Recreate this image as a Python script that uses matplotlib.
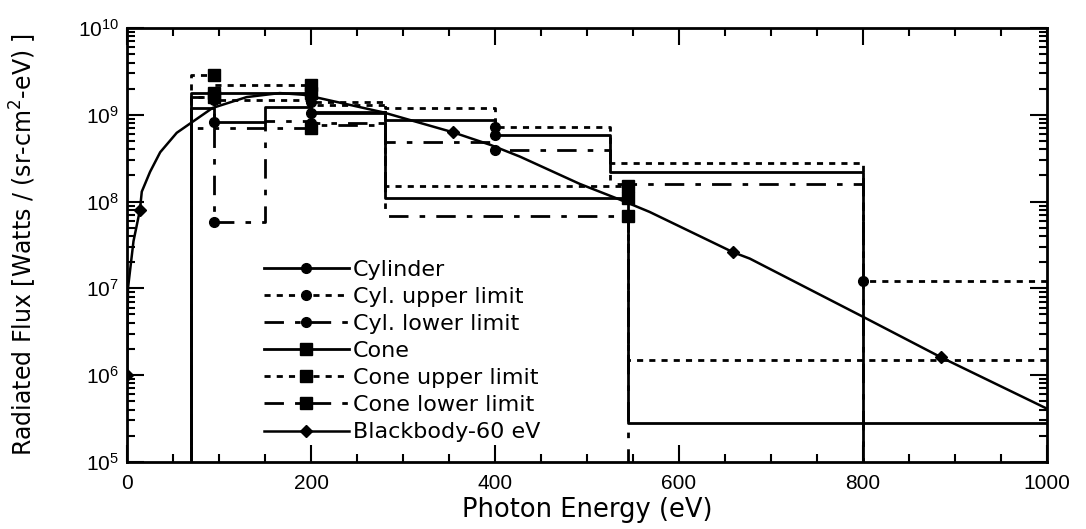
import matplotlib
matplotlib.use("Agg")
import matplotlib.pyplot as plt
from matplotlib.ticker import LogLocator, MultipleLocator, FixedLocator

# ---------------- data ----------------
# Cylinder histogram (bin edges in eV, flux per bin)
cyl_edges = [70, 95, 150, 200, 280, 400, 525, 800, 1000]
cyl_value = [1.2e9, 8.3e8, 1.23e9, 1.05e9, 8.7e8, 5.9e8, 2.2e8, 1e3]
cyl_upper = [1.6e9, 1.5e9, 1.5e9, 1.4e9, 1.2e9, 7.3e8, 2.8e8, 1.2e7]
cyl_lower = [7.0e8, 5.8e7, 8.5e8, 8.0e8, 4.9e8, 3.9e8, 1.6e8, 1e3]
cyl_mark_at = [95, 200, 400, 800]

# Cone histogram
cone_edges = [70, 95, 200, 280, 545, 1000]
cone_value = [1.8e9, 1.8e9, 1.07e9, 1.1e8, 2.8e5]
cone_upper = [2.9e9, 2.2e9, 1.3e9, 1.5e8, 1.5e6]
cone_lower = [1.6e9, 7.0e8, 7.7e8, 6.8e7, 1e3]
cone_mark_at = [95, 200, 545]

# Blackbody 60 eV curve
bb_e = [0, 1, 7, 14, 16, 25, 36, 54, 66, 93, 130, 166, 192, 210, 278, 354,
        395, 427, 492, 536, 568, 659, 677, 786, 800, 885, 1000]
bb_f = [1e6, 1e7, 3.5e7, 8e7, 1.3e8, 2.2e8, 3.7e8, 6.2e8, 7.6e8, 1.2e9, 1.6e9,
        1.78e9, 1.7e9, 1.55e9, 1.07e9, 6.3e8, 4.5e8, 3.3e8, 1.6e8, 1.05e8,
        7.6e7, 2.6e7, 2.2e7, 5.6e6, 4.7e6, 1.6e6, 4.1e5]
bb_mark_at = [0, 14, 354, 659, 885]

x_ticks = [0, 200, 400, 600, 800, 1000]
FLOOR = 1e3  # below the visible range

# ---------------- helpers ----------------
def step_xy(edges, vals):
    xs = [edges[0]]
    ys = [FLOOR]
    for i, v in enumerate(vals):
        xs += [edges[i], edges[i + 1]]
        ys += [v, v]
    return xs, ys

def start_idx(edges, marks):
    return [1 + 2 * edges.index(m) for m in marks]

def end_idx(edges, marks):
    return [2 + 2 * (edges.index(m) - 1) for m in marks]

plt.rcParams['font.family'] = ['Liberation Sans', 'DejaVu Sans']
fig = plt.figure(figsize=(10.86, 5.29), dpi=100)
ax = fig.add_axes([0.117, 0.127, 0.847, 0.820])

dotted = (0, (2.2, 2.2))
dashdot = (0, (7, 4, 2, 4))
lw = 2.0

x, y = step_xy(cyl_edges, cyl_value)
ax.plot(x, y, color='k', lw=lw, ls='-', marker='o', ms=7,
        markevery=start_idx(cyl_edges, cyl_mark_at), label='Cylinder')
x, y = step_xy(cyl_edges, cyl_upper)
ax.plot(x, y, color='k', lw=lw, ls=dotted, marker='o', ms=7,
        markevery=start_idx(cyl_edges, cyl_mark_at), label='Cyl. upper limit')
x, y = step_xy(cyl_edges, cyl_lower)
ax.plot(x, y, color='k', lw=lw, ls=dashdot, marker='o', ms=7,
        markevery=start_idx(cyl_edges, cyl_mark_at), label='Cyl. lower limit')

x, y = step_xy(cone_edges, cone_value)
ax.plot(x, y, color='k', lw=lw, ls='-', marker='s', ms=8,
        markevery=end_idx(cone_edges, cone_mark_at), label='Cone')
x, y = step_xy(cone_edges, cone_upper)
ax.plot(x, y, color='k', lw=lw, ls=dotted, marker='s', ms=8,
        markevery=end_idx(cone_edges, cone_mark_at), label='Cone upper limit')
x, y = step_xy(cone_edges, cone_lower)
ax.plot(x, y, color='k', lw=lw, ls=dashdot, marker='s', ms=8,
        markevery=end_idx(cone_edges, cone_mark_at), label='Cone lower limit')

ax.plot(bb_e, bb_f, color='k', lw=1.8, ls='-', marker='D', ms=6,
        markevery=[bb_e.index(m) for m in bb_mark_at], label='Blackbody-60 eV')

ax.set_yscale('log')
ax.set_xlim(0, 1000)
ax.set_ylim(1e5, 1e10)
ax.xaxis.set_major_locator(FixedLocator(x_ticks))
ax.xaxis.set_minor_locator(MultipleLocator(50))
ax.yaxis.set_major_locator(LogLocator(base=10, numticks=10))
ax.yaxis.set_minor_locator(LogLocator(base=10, subs=range(2, 10), numticks=20))
ax.tick_params(which='both', direction='in', top=True, right=True, width=1.5)
ax.tick_params(which='major', length=12, labelsize=15)
ax.tick_params(which='minor', length=6)
ax.tick_params(axis='x', which='major', pad=9)
ax.tick_params(axis='y', which='major', pad=6)
for s in ax.spines.values():
    s.set_linewidth(2)

ax.set_xlabel('Photon Energy (eV)', fontsize=18.5, labelpad=3,
              family=['DejaVu Sans'])
ax.set_ylabel('Radiated Flux [Watts / (sr-cm$^2$-eV) ]', fontsize=17,
              labelpad=28, family=['DejaVu Sans'])

leg = ax.legend(loc='upper left', bbox_to_anchor=(0.149, 0.466), frameon=False,
                prop={'family': 'DejaVu Sans', 'size': 16},
                handlelength=3.8, handletextpad=0.2,
                labelspacing=0.32, borderaxespad=0, borderpad=0)
fig.savefig('out.png', dpi=100)
